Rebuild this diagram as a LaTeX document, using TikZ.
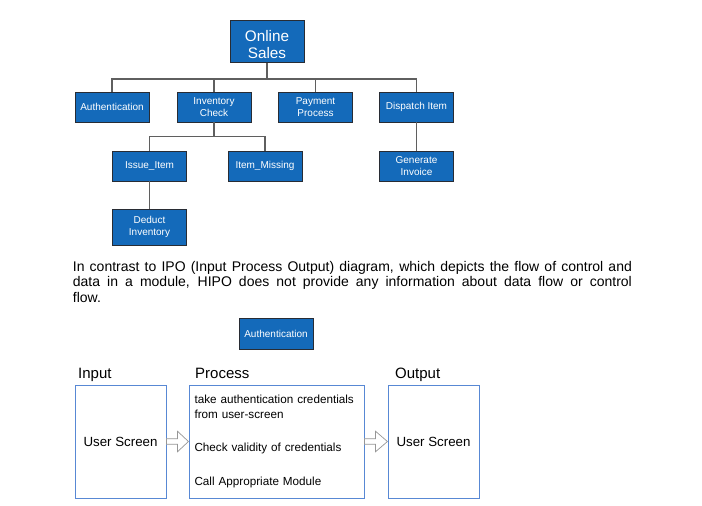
\documentclass[tikz,border=0pt]{standalone}
\usepackage{fontspec}
\setmainfont{Liberation Sans}
\usepackage{xcolor}
\usepackage{tikz}
\usetikzlibrary{positioning}
\definecolor{hipoblue}{RGB}{20,106,186}
\definecolor{boxedge}{RGB}{40,44,52}
\definecolor{linkgray}{RGB}{95,95,95}
\definecolor{ipoedge}{RGB}{88,136,212}
\definecolor{arrowgray}{RGB}{150,150,150}

\begin{document}
\begin{tikzpicture}[x=1pt, y=-1pt,
modnode/.style={rectangle, draw=boxedge, line width=0.9pt, fill=hipoblue, text=white, minimum width=74pt, minimum height=30pt, inner sep=1pt, align=center, font=\fontsize{10}{12}\selectfont},
topnode/.style={modnode, minimum height=42pt, text height=34pt, font=\fontsize{15.3}{16.7}\selectfont},
ipobox/.style={rectangle, draw=ipoedge, line width=0.9pt, minimum width=91pt, minimum height=113pt, inner sep=0pt, font=\fontsize{13.3}{15}\selectfont},
ipolabel/.style={anchor=base west, inner sep=0pt, font=\fontsize{15}{17}\selectfont},
link/.style={draw=linkgray, line width=1.3pt},
hollow/.style={draw=arrowgray, fill=white, line width=0.7pt, line join=miter},
]
\useasboundingbox (0,0) rectangle (702,506);

%Nodes
\node[topnode](Online) at (267,41.5) {Online\\Sales};
\node[modnode](Auth) at (112,107) {Authentication};
\node[modnode](Inventory) at (214,107) {Inventory\\Check};
\node[modnode](Payment) at (315.5,107) {Payment\\Process};
\node[modnode](Dispatch) at (416.5,107) {Dispatch Item};
\node[modnode](Issue) at (149.5,166) {Issue\_Item};
\node[modnode](Missing) at (265,166) {Item\_Missing};
\node[modnode](Invoice) at (416.5,166) {Generate\\Invoice};
\node[modnode, minimum height=36pt](Deduct) at (149.5,227) {Deduct\\Inventory};

\node[anchor=base west, inner sep=0pt, text width=559pt, align=justify, font=\fontsize{14}{15.5}\selectfont](Para) at (72.7,271)
{In contrast to IPO (Input Process Output) diagram, which depicts the flow of control and\linebreak
data in a module, HIPO does not provide any information about data flow or control\linebreak
flow.};

\node[modnode, minimum height=31pt](AuthIPO) at (276,333.5) {Authentication};

\node[ipobox](Input) at (120.5,441.5) {User Screen};
\node[ipobox, minimum width=175pt, inner xsep=5.5pt, text width=164pt, align=left, font=\fontsize{11.7}{14.5}\selectfont](Process) at (276.5,441.5)
{take authentication credentials\\from user-screen\\[18.8pt]Check validity of credentials\\[18.9pt]Call Appropriate Module};
\node[ipobox](Output) at (433.5,441.5) {User Screen};

\node[ipolabel](InputLbl) at (78,378) {Input};
\node[ipolabel](ProcessLbl) at (195,378) {Process};
\node[ipolabel](OutputLbl) at (395,378) {Output};

%Lines
\draw[link] (Online.south) -- ++(0,16) -| (Auth.north);
\draw[link] (Online.south) -- ++(0,16) -| (Inventory.north);
\draw[link] (Online.south) -- ++(0,16) -| (Payment.north);
\draw[link] (Online.south) -- ++(0,16) -| (Dispatch.north);
\draw[link] (Inventory.south) -- ++(0,14) -| (Issue.north);
\draw[link] (Inventory.south) -- ++(0,14) -| (Missing.north);
\draw[link] (Dispatch.south) -- (Invoice.north);
\draw[link] (Issue.south) -- (Deduct.north);

%Hollow arrows
\draw[hollow] (Input.east) ++(0,-2.8) -- ++(11,0) -- ++(0,-7.5) -- ++(11,10.3) -- ++(-11,10.3) -- ++(0,-7.5) -- ++(-11,0) -- cycle;
\draw[hollow] (Process.east) ++(0,-2.8) -- ++(11,0) -- ++(0,-7.5) -- ++(12,10.3) -- ++(-12,10.3) -- ++(0,-7.5) -- ++(-11,0) -- cycle;
\end{tikzpicture}
\end{document}
